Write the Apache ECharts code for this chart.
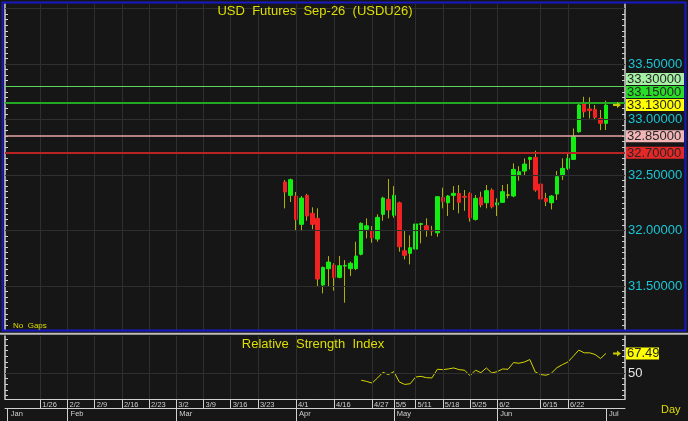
<!DOCTYPE html>
<html><head><meta charset="utf-8">
<script src="https://cdn.jsdelivr.net/npm/echarts@6/dist/echarts.min.js"></script>
<style>html,body{margin:0;padding:0;background:#161616;}#c{width:688px;height:421px;}</style>
</head><body><div id="c"></div>
<script>
// ---------- data ----------
const LEAD = 51;      // empty daily slots before the first traded day
const SLOTS = 114;    // total daily slots on the time axis
const weekTickIndex  = [6,11,16,21,26,31,36,41,46,53,60,67,71,75,80,85,90,98,103];
const weekTickLabels = ['1/26','2/2','2/9','2/16','2/23','3/2','3/9','3/16','3/23','4/1','4/16','4/27','5/5','5/11','5/18','5/25','6/2','6/15','6/22'];
const monthTickIndex  = [0,11,31,53,71,90,110];
const monthTickLabels = ['Jan','Feb','Mar','Apr','May','Jun','Jul'];

const open  = [32.437,32.317,32.311,32.056,32.317,32.155,32.110,31.509,31.656,31.689,31.578,31.680,31.656,31.656,31.786,32.011,31.995,31.923,32.146,32.281,32.137,32.250,31.818,31.795,31.833,32.055,32.043,32.002,31.980,32.299,32.250,32.317,32.335,32.308,32.335,32.100,32.299,32.250,32.365,32.230,32.254,32.320,32.311,32.500,32.536,32.641,32.659,32.419,32.290,32.250,32.329,32.494,32.560,32.641,32.890,33.146,33.095,33.092,33.010,32.966];
const close = [32.347,32.458,32.100,32.293,32.131,32.056,31.563,31.668,31.716,31.578,31.683,31.686,31.705,31.770,32.065,32.043,31.935,32.119,32.293,32.185,32.317,31.854,31.777,31.845,32.059,32.062,32.005,31.995,32.305,32.260,32.311,32.335,32.254,32.300,32.115,32.290,32.230,32.359,32.214,32.250,32.350,32.320,32.551,32.530,32.599,32.659,32.365,32.284,32.260,32.311,32.485,32.560,32.650,32.845,33.131,33.070,33.080,33.020,32.966,33.130];
const low   = [32.200,32.257,31.995,31.995,32.088,32.011,31.494,31.434,31.494,31.458,31.570,31.350,31.590,31.644,31.777,31.930,31.890,31.899,32.088,32.110,32.115,31.809,31.740,31.695,31.795,31.885,31.944,31.953,31.944,32.200,32.131,32.185,32.155,32.178,32.080,32.090,32.209,32.200,32.200,32.131,32.250,32.290,32.300,32.449,32.494,32.551,32.350,32.250,32.220,32.190,32.275,32.455,32.545,32.635,32.880,33.020,33.010,32.995,32.905,32.905];
const high  = [32.455,32.468,32.347,32.311,32.330,32.209,32.200,31.675,31.770,31.705,31.770,31.734,31.720,31.899,32.074,32.110,32.040,32.146,32.305,32.464,32.400,32.260,31.995,31.957,32.100,32.070,32.110,32.043,32.310,32.386,32.320,32.400,32.410,32.365,32.345,32.320,32.350,32.410,32.380,32.290,32.410,32.419,32.605,32.580,32.650,32.665,32.719,32.485,32.340,32.320,32.536,32.650,32.695,32.920,33.151,33.205,33.200,33.131,33.086,33.170];

const rsiStart = 14;  // first traded day with an RSI value
const rsi = [43.5,42.5,41.0,45.6,50.6,48.6,51.2,42.0,39.8,40.4,46.4,47.0,45.8,45.6,53.3,53.0,53.6,54.5,53.0,52.5,47.6,52.5,50.3,54.5,50.0,51.2,53.6,53.3,59.3,58.7,59.8,62.0,50.9,48.6,48.0,50.0,54.8,57.5,59.8,65.0,70.4,68.0,68.0,66.5,62.9,67.49];

const priceLabels = [31.5,32.0,32.5,33.0,33.5];
const priceGrid   = [31.5,32.0,32.5,33.0,33.5,34.0];
const levelValues = [33.30,33.15,32.85,32.70];
const lastPrice = 33.13;
const rsiLast = 67.49;

// ---------- styling ----------
const FONT = 'Arial, "Liberation Sans", sans-serif';
const YEL = '#dede00';
const GRIDC = '#2f2f2f';
const AXC = '#d0d0d0';
const levelStyle = {
  '33.3':  {line:{color:'#5cd85c',width:1}, bg:'#a6f0a6'},
  '33.15': {line:{color:'#22a822',width:2}, bg:'#28dc28'},
  '32.85': {line:{color:'#e6a4a4',width:1.5}, bg:'#f2b6b6'},
  '32.7':  {line:{color:'#b82424',width:2}, bg:'#e42828'}
};

const categories = Array.from({length:SLOTS},(_,i)=>String(i));
const wickData = open.map((o,i)=>[LEAD+i,o,close[i],low[i],high[i]]);
const bodyData = open.map((o,i)=>[LEAD+i,o,close[i],Math.min(o,close[i]),Math.max(o,close[i])]);
const rsiData = rsi.map((v,i)=>[LEAD+rsiStart+i,v]);

const mainTicks=[]; for(let k=623;k<=680;k++) mainTicks.push(k/20);
const rsiTicks=[]; for(let k=30;k<=80;k+=5) rsiTicks.push(k);

const vLines = weekTickIndex.map(i=>({xAxis:i}));
const mainMark = [
  ...vLines.map(d=>({...d, lineStyle:{color:GRIDC,width:1,type:'solid'}})),
  ...priceGrid.map(v=>({yAxis:v, lineStyle:{color:GRIDC,width:1,type:'solid'}})),
  ...levelValues.map(v=>({yAxis:v, lineStyle:{...levelStyle[String(v)].line,type:'solid'}}))
];
const rsiMark = [
  ...vLines.map(d=>({...d, lineStyle:{color:GRIDC,width:1,type:'solid'}})),
  {yAxis:50, lineStyle:{color:GRIDC,width:1,type:'solid'}}
];

const weekFmt = (v,idx)=>{const k=weekTickIndex.indexOf(idx);return k>=0?weekTickLabels[k]:'';};
const monthFmt = (v,idx)=>{const k=monthTickIndex.indexOf(idx);return k>=0?monthTickLabels[k]:'';};

const option = {
  animation:false,
  backgroundColor:'#161616',
  grid:[
    {left:5,right:63,top:4,height:326},
    {left:5,right:63,top:336,height:63}
  ],
  xAxis:[
    {type:'category',gridIndex:0,data:categories,boundaryGap:true,
     axisLine:{show:false},axisTick:{show:false},axisLabel:{show:false},splitLine:{show:false}},
    {type:'category',gridIndex:1,data:categories,boundaryGap:true,position:'bottom',
     axisLine:{show:true,lineStyle:{color:AXC,width:1}},
     axisTick:{show:true,alignWithLabel:true,length:9,interval:(i)=>weekTickIndex.includes(i),lineStyle:{color:AXC}},
     axisLabel:{show:true,interval:(i)=>weekTickIndex.includes(i),formatter:weekFmt,align:'left',padding:[0,0,0,2],
       margin:2,fontSize:7.5,color:'#cfcfcf',fontFamily:FONT},
     splitLine:{show:false}},
    {type:'category',gridIndex:1,data:categories,boundaryGap:true,position:'bottom',offset:9,
     axisLine:{show:true,lineStyle:{color:AXC,width:1}},
     axisTick:{show:true,alignWithLabel:true,length:13,interval:(i)=>monthTickIndex.includes(i),lineStyle:{color:AXC}},
     axisLabel:{show:true,interval:(i)=>monthTickIndex.includes(i),formatter:monthFmt,align:'left',padding:[0,0,0,3],
       margin:2,fontSize:7.5,color:'#cfcfcf',fontFamily:FONT},
     splitLine:{show:false}}
  ],
  yAxis:[
    {type:'value',gridIndex:0,position:'right',min:31.104,max:34.041,scale:true,
     axisLine:{show:true,lineStyle:{color:AXC,width:1.5}},
     axisTick:{show:true,inside:true,length:3,customValues:mainTicks,lineStyle:{color:AXC}},
     axisLabel:{show:true,customValues:priceLabels,formatter:v=>v.toFixed(5),color:'#19c6d6',fontSize:13,margin:3,fontFamily:FONT},
     splitLine:{show:false}},
    {type:'value',gridIndex:0,position:'left',min:31.104,max:34.041,scale:true,
     axisLine:{show:true,lineStyle:{color:AXC,width:1.5}},
     axisTick:{show:true,inside:true,length:3,customValues:mainTicks,lineStyle:{color:AXC}},
     axisLabel:{show:false},splitLine:{show:false}},
    {type:'value',gridIndex:1,position:'right',min:26.8,max:83,
     axisLine:{show:true,lineStyle:{color:AXC,width:1.5}},
     axisTick:{show:true,inside:true,length:3,customValues:rsiTicks,lineStyle:{color:AXC}},
     axisLabel:{show:true,customValues:[50],color:'#e6e6e6',fontSize:13,margin:3,fontFamily:FONT},
     splitLine:{show:false}},
    {type:'value',gridIndex:1,position:'left',min:26.8,max:83,
     axisLine:{show:true,lineStyle:{color:AXC,width:1.5}},
     axisTick:{show:true,inside:true,length:3,customValues:rsiTicks,lineStyle:{color:AXC}},
     axisLabel:{show:false},splitLine:{show:false}}
  ],
  series:[
    {type:'candlestick',name:'wick',xAxisIndex:0,yAxisIndex:0,z:2,silent:true,
     encode:{x:0,y:[1,2,3,4]},data:wickData,barWidth:1,
     itemStyle:{color:'#b0b000',color0:'#b0b000',borderColor:'#b0b000',borderColor0:'#b0b000',borderColorDoji:'#b0b000',borderWidth:1},
     emphasis:{disabled:true},
     markLine:{silent:true,symbol:['none','none'],label:{show:false},animation:false,data:mainMark}},
    {type:'candlestick',name:'body',xAxisIndex:0,yAxisIndex:0,z:3,silent:true,
     encode:{x:0,y:[1,2,3,4]},data:bodyData,barWidth:4,
     itemStyle:{color:'#12ee12',color0:'#f22222',borderColor:'#12ee12',borderColor0:'#f22222',borderColorDoji:'#c8c800',borderWidth:1},
     emphasis:{disabled:true}},
    {type:'line',name:'RSI',xAxisIndex:1,yAxisIndex:2,data:rsiData,symbol:'none',silent:true,
     lineStyle:{color:'#d6d600',width:1},z:3,
     markLine:{silent:true,symbol:['none','none'],label:{show:false},animation:false,data:rsiMark}}
  ]
};

const chart = echarts.init(document.getElementById('c'));
chart.setOption(option);

// ---------- price tags (placed through the axes' own scales) ----------
const py = v=>chart.convertToPixel({yAxisIndex:0},v);
const ry = v=>chart.convertToPixel({yAxisIndex:2},v);
const tags = [...levelValues.map(v=>({v,bg:levelStyle[String(v)].bg})),{v:lastPrice,bg:'#ffff00',anchor:true}]
  .sort((a,b)=>b.v-a.v);
tags.forEach(t=>t.y=py(t.v));
const ai = tags.findIndex(t=>t.anchor);
const STEP=13;
for(let i=ai-1;i>=0;i--) tags[i].y=Math.min(tags[i].y,tags[i+1].y-STEP);
for(let i=ai+1;i<tags.length;i++) tags[i].y=Math.max(tags[i].y,tags[i-1].y+STEP);

const g = [];
g.push({type:'rect',shape:{x:2.5,y:2.5,width:683,height:328},style:{fill:'none',stroke:'#1818c4',lineWidth:2},z:50,silent:true});
g.push({type:'line',shape:{x1:0,y1:333.7,x2:688,y2:333.7},style:{stroke:'#bdbdbd',lineWidth:2},z:50,silent:true});
tags.forEach(t=>{
  g.push({type:'rect',shape:{x:626,y:t.y-6,width:58,height:12},style:{fill:t.bg},z:60,silent:true});
  g.push({type:'text',x:627,y:t.y+0.5,style:{text:t.v.toFixed(5),fill:'#262626',fontSize:13,fontFamily:FONT,verticalAlign:'middle',align:'left'},z:61,silent:true});
});
const arrow=(y)=>({type:'polygon',shape:{points:[[613,y-1],[617,y-1],[617,y-3],[621,y],[617,y+3],[617,y+1],[613,y+1]]},style:{fill:'#c8c800'},z:60,silent:true});
g.push(arrow(py(lastPrice)));
const yr = ry(rsiLast);
g.push(arrow(yr));
g.push({type:'rect',shape:{x:626,y:yr-6,width:33,height:12},style:{fill:'#ffff00'},z:60,silent:true});
g.push({type:'text',x:627,y:yr+0.5,style:{text:rsiLast.toFixed(2),fill:'#262626',fontSize:13,fontFamily:FONT,verticalAlign:'middle',align:'left'},z:61,silent:true});
g.push({type:'text',x:315,y:5,style:{text:'USD  Futures  Sep-26  (USDU26)',fill:YEL,fontSize:13,fontFamily:FONT,align:'center',verticalAlign:'top'},z:61,silent:true});
g.push({type:'text',x:313,y:338,style:{text:'Relative  Strength  Index',fill:YEL,fontSize:13,fontFamily:FONT,align:'center',verticalAlign:'top'},z:61,silent:true});
g.push({type:'text',x:13,y:322,style:{text:'No  Gaps',fill:YEL,fontSize:8,fontFamily:FONT,align:'left',verticalAlign:'top'},z:61,silent:true});
g.push({type:'text',x:661,y:404,style:{text:'Day',fill:YEL,fontSize:11,fontFamily:FONT,align:'left',verticalAlign:'top'},z:61,silent:true});
chart.setOption({graphic:g});
</script>
</body></html>
